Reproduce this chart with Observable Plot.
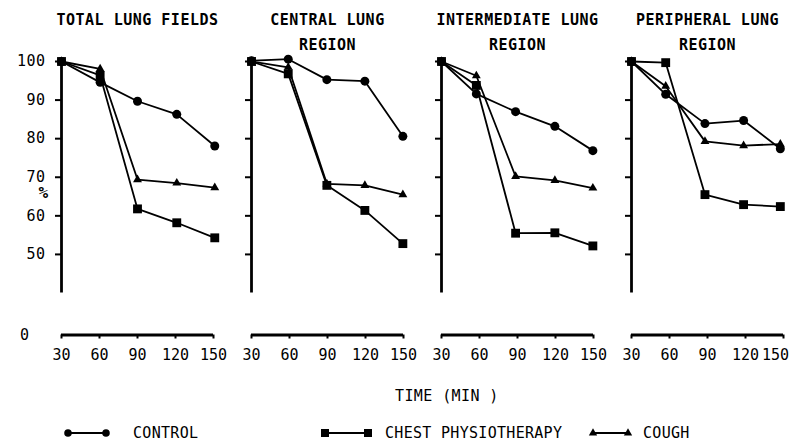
<!DOCTYPE html>
<html><head><meta charset="utf-8">
<script src="https://cdn.jsdelivr.net/npm/d3@7"></script>
<script src="https://cdn.jsdelivr.net/npm/@observablehq/plot@0.6"></script>
<style>
body{margin:0;background:#fff;}
#wrap{position:relative;width:791px;height:441px;font-family:"DejaVu Sans Mono",monospace;color:#000;background:#fff;overflow:hidden;}
#chart{position:absolute;left:0;top:0;}
#xlabel{position:absolute;left:395px;top:389px;font-size:15px;line-height:1;white-space:nowrap;letter-spacing:0.4px;}
#legend{position:absolute;left:0;top:418px;}
</style></head><body>
<div id="wrap"><div id="chart"></div>
<div id="xlabel">TIME (MIN )</div>
<div id="legend"></div>
</div>
<script>
// ---- data ----
const panels = ["TOTAL LUNG FIELDS", "CENTRAL LUNG\nREGION", "INTERMEDIATE LUNG\nREGION", "PERIPHERAL LUNG\nREGION"];
const seriesNames = ["CONTROL", "CHEST PHYSIOTHERAPY", "COUGH"];
const xTicks = [30, 60, 90, 120, 150];
const yTicks = [50, 60, 70, 80, 90, 100];
// measurement times per panel (min)
const times = [
  [30, 60.5, 90, 121, 151],
  [30, 59, 89.5, 119.5, 149.5],
  [30, 57.5, 88.5, 119.5, 149.5],
  [30, 57, 88, 118.5, 147.5]
];
const control = [
  [100, 94.6, 89.7, 86.3, 78.1],
  [100.2, 100.6, 95.3, 94.9, 80.6],
  [100, 91.6, 87.0, 83.2, 76.9],
  [100, 91.5, 83.9, 84.7, 77.4]
];
const chest = [
  [100, 96.4, 61.8, 58.2, 54.3],
  [100, 96.8, 67.9, 61.4, 52.8],
  [100, 93.8, 55.5, 55.6, 52.2],
  [100, 99.7, 65.5, 62.9, 62.4]
];
const cough = [
  [100, 98.1, 69.4, 68.5, 67.3],
  [100, 98.5, 68.3, 67.9, 65.5],
  [100, 96.3, 70.2, 69.2, 67.2],
  [100, 93.6, 79.3, 78.2, 78.6]
];

// ---- table ----
const rows = [];
panels.forEach((p, i) => {
  times[i].forEach((t, j) => {
    rows.push({panel: p, time: t, series: seriesNames[0], value: control[i][j]});
    rows.push({panel: p, time: t, series: seriesNames[1], value: chest[i][j]});
    rows.push({panel: p, time: t, series: seriesNames[2], value: cough[i][j]});
  });
});

// broken y axis: 0..40 compressed into a short gap
const H = 372, Y0 = 334.5, YTOP = 61, Y40 = 292.5;
const pxPerUnit = (Y40 - YTOP) / 60;
const k = ((Y0 - Y40) / pxPerUnit) / 40;
const brk = v => v >= 40 ? v : 40 - (40 - v) * k;

const chart = Plot.plot({
  width: 791, height: H,
  marginLeft: 60, marginRight: 8, marginTop: YTOP, marginBottom: H - Y0,
  style: {fontFamily: "'DejaVu Sans Mono', monospace", fontSize: "15px", color: "black", background: "white"},
  fx: {domain: panels, paddingInner: 0.2, paddingOuter: 0, axis: null, label: null},
  x: {domain: [30, 150], label: null},
  y: {type: "linear", transform: brk, domain: [brk(0), 100], range: [Y0, YTOP], label: null},
  marks: [
    Plot.ruleX([30], {y1: 40, y2: 100, strokeWidth: 2.8}),
    Plot.ruleY([0], {x1: 30, x2: 150, strokeWidth: 2.8}),
    Plot.axisY({ticks: yTicks, tickSize: 6, strokeWidth: 2, text: null, facetAnchor: null, label: null}),
    Plot.axisY({ticks: yTicks, tickSize: 0, tickPadding: 16, label: null}),
    Plot.axisY({ticks: [brk(0)], tickFormat: () => "0", tickSize: 0, tickPadding: 32, label: null}),
    Plot.axisX({ticks: xTicks, tickSize: 4, tickPadding: 10, strokeWidth: 2, label: null}),
    Plot.text(panels, {fx: d => d, text: d => d, frameAnchor: "top", lineAnchor: "top", dy: -54, fontWeight: "bold", lineHeight: 1.65}),
    Plot.text(["%"], {fx: [panels[0]], text: d => d, frameAnchor: "left", dx: -23, dy: -5, fontWeight: "bold", fontSize: 16}),
    Plot.line(rows, {x: "time", y: "value", z: "series", fx: "panel", stroke: "black", strokeWidth: 1.8}),
    Plot.dot(rows.filter(d => d.series === seriesNames[0]), {x: "time", y: "value", fx: "panel", symbol: "circle", fill: "black", r: 4.5}),
    Plot.dot(rows.filter(d => d.series === seriesNames[1]), {x: "time", y: "value", fx: "panel", symbol: "square", fill: "black", r: 5}),
    Plot.dot(rows.filter(d => d.series === seriesNames[2]), {x: "time", y: "value", fx: "panel", symbol: "triangle", fill: "black", r: 3.3})
  ]
});
d3.select(chart).selectAll("text").style("letter-spacing", "0.5px");
d3.select(chart).selectAll('g[aria-label="x-axis tick label"] text').style("letter-spacing", "0px");
document.getElementById("chart").appendChild(chart);

// keep the last "150" tick label inside the picture
const wrapBox = document.getElementById("wrap").getBoundingClientRect();
d3.select(chart).selectAll("text").each(function() {
  const b = this.getBoundingClientRect();
  if (b.right > wrapBox.right - 1) {
    d3.select(this).attr("transform", (this.getAttribute("transform") || "") + ` translate(${-(b.right - wrapBox.right + 2)},0)`);
  }
});

// ---- legend ----
const leg = d3.select("#legend").append("svg").attr("width", 791).attr("height", 23);
const items = [
  {name: seriesNames[0], sym: d3.symbolCircle, size: 45, x1: 68, x2: 106, tx: 133},
  {name: seriesNames[1], sym: d3.symbolSquare, size: 64, x1: 325, x2: 368, tx: 385},
  {name: seriesNames[2], sym: d3.symbolTriangle, size: 30, x1: 593, x2: 628, tx: 643}
];
const ly = 15;
items.forEach(it => {
  leg.append("line").attr("x1", it.x1).attr("x2", it.x2).attr("y1", ly).attr("y2", ly).attr("stroke", "black").attr("stroke-width", 1.8);
  [it.x1, it.x2].forEach(x => leg.append("path").attr("d", d3.symbol(it.sym, it.size)()).attr("transform", `translate(${x},${ly})`).attr("fill", "black"));
  leg.append("text").attr("x", it.tx).attr("y", ly).attr("dy", "0.36em").attr("font-family", "'DejaVu Sans Mono', monospace").attr("font-size", 15).style("letter-spacing", "0.3px").text(it.name);
});
</script>
</body></html>
